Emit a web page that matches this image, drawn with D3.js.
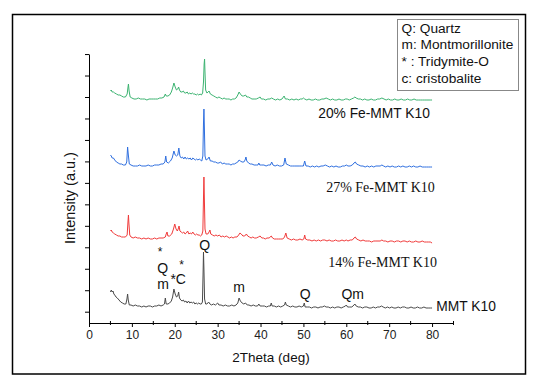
<!DOCTYPE html>
<html>
<head>
<meta charset="utf-8">
<script src="https://cdn.jsdelivr.net/npm/d3@7"></script>
<style>
  body { margin: 0; background: #fff; }
  svg { display: block; font-family: "Liberation Sans", Arial, sans-serif; }
</style>
</head>
<body>
<svg id="chart" width="538" height="384"></svg>
<script>
// XRD patterns, 2theta (deg) vs intensity (a.u.)
var mmtK10 = [[5.0,17],[5.2,19],[5.4,17],[5.6,18],[5.8,15],[6.0,14],[6.3,12],[6.6,11],[7.0,9],[7.4,7],[7.8,6],[8.2,5],[8.6,5],[8.85,10],[9.0,15],[9.15,9],[9.4,4],[9.8,4],[10.3,3],[10.8,4],[11.3,3],[11.8,3],[12.3,2],[12.8,3],[13.3,2],[13.8,3],[14.3,3],[14.8,2],[15.3,3],[15.8,3],[16.3,4],[16.8,3],[17.3,4],[17.6,5],[17.8,11],[18.0,5],[18.4,5],[18.8,6],[19.2,8],[19.5,12],[19.8,20],[20.1,15],[20.4,12],[20.7,13],[20.9,17],[21.1,11],[21.4,9],[21.7,8],[22.0,9],[22.3,7],[22.6,8],[22.9,6],[23.2,8],[23.5,6],[23.8,7],[24.1,6],[24.4,7],[24.7,5],[25.0,6],[25.3,5],[25.6,6],[25.9,5],[26.2,5],[26.45,7],[26.6,35],[26.7,57],[26.8,40],[26.95,10],[27.2,5],[27.5,5],[27.9,7],[28.2,5],[28.6,4],[29.0,5],[29.5,4],[30.0,6],[30.3,4],[30.8,4],[31.3,3],[31.8,4],[32.3,3],[32.8,3],[33.3,4],[33.8,3],[34.3,4],[34.7,6],[35.0,11],[35.3,8],[35.7,6],[36.1,5],[36.5,6],[36.9,4],[37.3,4],[37.8,3],[38.3,4],[38.8,3],[39.3,3],[39.6,5],[39.9,3],[40.4,3],[40.9,3],[41.4,2],[41.9,3],[42.3,3],[42.5,6],[42.7,3],[43.2,3],[43.7,2],[44.2,3],[44.7,2],[45.2,3],[45.6,4],[45.8,7],[46.0,4],[46.5,3],[47.0,2],[47.5,3],[48.0,2],[48.5,2],[49.0,3],[49.5,2],[50.0,3],[50.2,6],[50.4,2],[50.9,2],[51.4,2],[51.9,1],[52.4,2],[52.9,2],[53.4,1],[53.9,2],[54.4,2],[54.9,3],[55.3,2],[55.8,2],[56.3,1],[56.8,2],[57.3,1],[57.8,2],[58.3,2],[58.8,1],[59.3,2],[59.8,3],[60.0,4],[60.3,2],[60.8,2],[61.3,2],[61.8,4],[62.0,5],[62.3,3],[62.8,2],[63.3,2],[63.8,1],[64.3,2],[64.8,2],[65.3,1],[65.8,1],[66.3,2],[66.8,1],[67.3,2],[67.8,2],[68.2,3],[68.6,2],[69.1,1],[69.6,2],[70.1,1],[70.6,2],[71.1,1],[71.6,1],[72.1,2],[72.6,1],[73.1,2],[73.6,2],[74.1,1],[74.6,1],[75.1,2],[75.6,1],[76.1,1],[76.6,2],[77.1,1],[77.6,1],[78.1,2],[78.6,1],[79.1,1],[79.6,1],[80.0,1]];

var fe14 = [[5.0,12],[5.2,13],[5.4,11],[5.7,10],[6.0,9],[6.4,8],[6.8,7],[7.2,7],[7.6,6],[8.0,6],[8.5,6],[8.9,8],[9.1,22],[9.2,28],[9.3,20],[9.5,8],[9.8,6],[10.3,5],[10.8,6],[11.3,5],[11.8,5],[12.3,4],[12.8,5],[13.3,4],[13.8,5],[14.3,4],[14.8,4],[15.3,5],[15.8,4],[16.3,5],[16.8,5],[17.3,5],[17.8,6],[18.0,9],[18.2,11],[18.4,7],[18.8,7],[19.3,9],[19.7,14],[20.0,19],[20.3,14],[20.6,12],[20.8,14],[21.0,17],[21.2,12],[21.5,11],[21.8,10],[22.1,11],[22.4,9],[22.7,10],[23.0,12],[23.3,9],[23.6,10],[23.9,9],[24.2,11],[24.5,9],[24.8,8],[25.1,9],[25.4,8],[25.7,8],[26.0,7],[26.3,8],[26.55,12],[26.7,45],[26.8,66],[26.9,45],[27.05,14],[27.3,9],[27.7,9],[28.0,11],[28.2,13],[28.4,9],[28.8,8],[29.2,7],[29.6,8],[30.0,7],[30.4,8],[30.8,6],[31.2,7],[31.6,6],[32.0,7],[32.4,6],[32.8,5],[33.2,6],[33.6,5],[34.0,6],[34.5,6],[34.9,8],[35.2,10],[35.5,9],[35.9,7],[36.3,7],[36.7,9],[37.0,7],[37.4,6],[37.8,5],[38.2,6],[38.6,5],[39.0,5],[39.5,6],[39.9,7],[40.3,5],[40.7,5],[41.1,4],[41.5,5],[42.0,5],[42.5,7],[42.8,5],[43.2,4],[43.7,4],[44.2,4],[44.7,4],[45.2,4],[45.6,6],[45.9,10],[46.2,5],[46.7,4],[47.2,3],[47.7,4],[48.2,3],[48.7,3],[49.2,4],[49.7,3],[50.1,4],[50.3,8],[50.5,4],[51.0,3],[51.5,3],[52.0,2],[52.5,3],[53.0,2],[53.5,3],[54.0,2],[54.5,3],[55.0,3],[55.5,2],[56.0,3],[56.5,2],[57.0,2],[57.5,3],[58.0,2],[58.5,2],[59.0,3],[59.5,2],[60.0,3],[60.4,2],[60.9,3],[61.4,3],[61.8,5],[62.1,6],[62.4,4],[62.9,3],[63.4,2],[63.9,3],[64.4,2],[64.9,2],[65.4,2],[65.9,1],[66.4,2],[66.9,2],[67.4,2],[67.9,2],[68.3,3],[68.7,2],[69.2,2],[69.7,1],[70.2,2],[70.7,2],[71.2,1],[71.7,2],[72.2,2],[72.7,1],[73.2,2],[73.7,2],[74.2,1],[74.7,2],[75.2,1],[75.7,1],[76.2,2],[76.7,1],[77.2,1],[77.7,2],[78.2,1],[78.7,1],[79.2,1],[79.6,1],[80.0,0]];

var fe27 = [[5.0,13],[5.2,12],[5.4,10],[5.7,10],[6.0,8],[6.4,6],[6.8,5],[7.2,4],[7.6,4],[8.0,3],[8.5,3],[8.8,6],[9.0,21],[9.15,14],[9.4,4],[9.8,3],[10.3,2],[10.8,2],[11.3,2],[11.8,3],[12.3,2],[12.8,2],[13.3,2],[13.8,3],[14.3,2],[14.8,2],[15.3,3],[15.8,3],[16.3,3],[16.8,4],[17.3,4],[17.7,6],[17.9,12],[18.1,6],[18.5,5],[19.0,7],[19.4,10],[19.8,17],[20.1,13],[20.4,12],[20.7,13],[20.95,20],[21.2,12],[21.5,10],[21.8,11],[22.1,9],[22.4,11],[22.7,9],[23.0,10],[23.3,9],[23.6,10],[23.9,8],[24.2,10],[24.5,9],[24.8,8],[25.1,9],[25.4,8],[25.7,9],[26.0,8],[26.3,7],[26.55,12],[26.7,45],[26.8,59],[26.9,42],[27.05,12],[27.3,8],[27.7,9],[28.0,11],[28.3,7],[28.7,7],[29.1,6],[29.5,6],[29.9,5],[30.3,5],[30.7,6],[31.1,4],[31.5,5],[31.9,4],[32.3,4],[32.7,4],[33.1,3],[33.5,4],[33.9,4],[34.3,5],[34.7,6],[35.0,8],[35.3,7],[35.7,6],[36.1,6],[36.4,8],[36.6,11],[36.8,7],[37.2,5],[37.6,4],[38.0,4],[38.5,3],[39.0,3],[39.4,3],[39.6,5],[39.8,3],[40.3,3],[40.8,3],[41.3,2],[41.8,3],[42.3,3],[42.6,6],[42.9,3],[43.4,2],[43.9,3],[44.4,2],[44.9,2],[45.4,3],[45.7,10],[46.0,4],[46.5,3],[47.0,2],[47.5,2],[48.0,2],[48.5,2],[49.0,2],[49.5,2],[50.0,2],[50.3,7],[50.6,2],[51.1,2],[51.6,1],[52.1,2],[52.6,1],[53.1,2],[53.6,1],[54.1,2],[54.6,2],[55.1,3],[55.6,2],[56.1,1],[56.6,2],[57.1,1],[57.6,2],[58.1,1],[58.6,1],[59.1,2],[59.6,2],[60.0,3],[60.4,2],[60.9,2],[61.4,3],[61.8,5],[62.1,6],[62.4,4],[62.9,3],[63.4,2],[63.9,2],[64.4,1],[64.9,2],[65.4,1],[65.9,2],[66.4,1],[66.9,2],[67.4,2],[67.9,2],[68.3,3],[68.7,2],[69.2,1],[69.7,2],[70.2,1],[70.7,2],[71.2,1],[71.7,1],[72.2,2],[72.7,1],[73.2,2],[73.7,1],[74.2,1],[74.7,2],[75.2,1],[75.7,2],[76.2,1],[76.7,1],[77.2,2],[77.7,1],[78.2,1],[78.7,1],[79.2,1],[79.6,1],[80.0,1]];

var fe20 = [[5.0,11],[5.2,12],[5.4,10],[5.7,10],[6.0,9],[6.4,8],[6.8,7],[7.2,7],[7.6,6],[8.0,5],[8.5,5],[8.9,8],[9.1,15],[9.2,18],[9.35,11],[9.6,5],[10.0,4],[10.5,3],[11.0,3],[11.5,4],[12.0,3],[12.5,3],[13.0,3],[13.5,2],[14.0,3],[14.5,3],[15.0,3],[15.5,3],[16.0,3],[16.5,4],[17.0,4],[17.5,5],[17.8,8],[18.0,6],[18.4,6],[18.8,7],[19.2,10],[19.5,14],[19.8,19],[20.1,15],[20.4,12],[20.7,13],[20.9,15],[21.1,12],[21.4,10],[21.7,10],[22.0,11],[22.3,9],[22.6,9],[22.9,10],[23.2,8],[23.5,9],[23.8,8],[24.1,9],[24.4,8],[24.7,8],[25.0,7],[25.3,8],[25.6,7],[25.9,8],[26.2,7],[26.5,9],[26.7,20],[26.85,38],[26.95,43],[27.05,30],[27.2,12],[27.5,9],[27.8,10],[28.0,11],[28.3,8],[28.7,7],[29.1,6],[29.5,5],[29.9,4],[30.3,5],[30.7,4],[31.1,3],[31.5,4],[31.9,3],[32.3,3],[32.7,3],[33.1,2],[33.5,3],[33.9,3],[34.3,4],[34.7,7],[35.0,10],[35.3,8],[35.7,6],[36.1,6],[36.5,7],[36.8,5],[37.2,5],[37.6,4],[38.0,3],[38.5,3],[39.0,3],[39.5,4],[39.9,5],[40.2,3],[40.7,3],[41.2,2],[41.7,3],[42.2,3],[42.6,4],[43.0,3],[43.5,2],[44.0,3],[44.5,2],[45.0,3],[45.5,6],[45.8,3],[46.3,3],[46.8,2],[47.3,3],[47.8,2],[48.3,3],[48.8,2],[49.3,3],[49.7,3],[50.0,4],[50.3,3],[50.8,2],[51.3,3],[51.8,2],[52.3,2],[52.8,3],[53.3,2],[53.8,2],[54.3,3],[54.8,3],[55.3,4],[55.8,3],[56.3,2],[56.8,3],[57.3,2],[57.8,2],[58.3,3],[58.8,2],[59.3,2],[59.8,3],[60.2,3],[60.7,2],[61.2,3],[61.7,4],[62.0,5],[62.3,4],[62.8,3],[63.3,3],[63.8,2],[64.3,3],[64.8,2],[65.3,2],[65.8,3],[66.3,2],[66.8,2],[67.3,3],[67.8,3],[68.3,4],[68.8,3],[69.3,2],[69.8,3],[70.3,2],[70.8,2],[71.3,3],[71.8,2],[72.3,2],[72.8,3],[73.3,2],[73.8,2],[74.3,3],[74.8,2],[75.3,2],[75.8,3],[76.3,2],[76.8,2],[77.3,2],[77.8,2],[78.3,2],[78.8,2],[79.3,2],[79.7,2],[80.0,2]];

// stacking of the patterns (a.u. added to each)
var seriesNames = ["MMT K10", "14% Fe-MMT K10", "27% Fe-MMT K10", "20% Fe-MMT K10"];
var seriesData = [mmtK10, fe14, fe27, fe20];
var stackOffset = [14, 80, 155, 221];
var seriesColors = ["#4a4a4a", "#f03a3a", "#2f6fdf", "#3cb371"];

// where each series label sits: [2theta, a.u.], anchor and font
var labelPos = [[81, 12], [55.8, 56], [55.3, 131], [79.5, 205]];
var labelAnchor = ["start", "start", "start", "end"];
var labelFont = ["sans", "serif", "serif", "sans"];

// phase markers above the MMT K10 pattern (a.u. above its stack offset)
var peakMarks = [
  {t: "*", x: 16.6, y: 53},
  {t: "*", x: 21.6, y: 40},
  {t: "Q", x: 17.2, y: 36},
  {t: "m", x: 17.3, y: 20},
  {t: "*C", x: 20.8, y: 24.7},
  {t: "Q", x: 27.0, y: 59},
  {t: "m", x: 35.0, y: 16.7},
  {t: "Q", x: 50.4, y: 9.7},
  {t: "Qm", x: 61.5, y: 9.7}
];

var legendLines = ["Q: Quartz", "m: Montmorillonite", "* : Tridymite-O", "c: cristobalite"];

var svg = d3.select("#chart");

// outer frame
svg.append("rect")
  .attr("x", 12.5).attr("y", 14.5)
  .attr("width", 513).attr("height", 359.5)
  .attr("fill", "none").attr("stroke", "#000").attr("stroke-width", 1.5);

var x = d3.scaleLinear().domain([0, 85]).range([89, 453.5]);
var y = d3.scaleLinear().domain([0, 269]).range([323, 54]);

// x axis, labelled every 10 with minor ticks in between
var xAxis = svg.append("g").attr("transform", "translate(0,323)")
  .call(d3.axisBottom(x).tickValues(d3.range(0, 81, 10)).tickSize(4).tickPadding(3).tickSizeOuter(0));
xAxis.select(".domain").attr("stroke", "#000");
xAxis.selectAll("text").attr("font-size", 12).attr("font-family", "Liberation Sans, Arial, sans-serif").attr("fill", "#222");
svg.append("g").selectAll("line")
  .data(d3.range(5, 86, 10))
  .enter().append("line")
  .attr("x1", d => x(d)).attr("x2", d => x(d))
  .attr("y1", 321).attr("y2", 325)
  .attr("stroke", "#000");

// y axis without labels
var yTicks = d3.range(0, 13).map(k => 11.3 + 21.47 * k);
var yAxis = svg.append("g").attr("transform", "translate(89,0)")
  .call(d3.axisLeft(y).tickValues(yTicks).tickSize(4).tickFormat("").tickSizeOuter(0));
yAxis.select(".domain").attr("stroke", "#000");

// patterns
var line = d3.line()
  .x(d => x(d[0]))
  .y(d => y(d[1]));

seriesData.forEach(function(s, i) {
  svg.append("path")
    .datum(s.map(d => [d[0], d[1] + stackOffset[i]]))
    .attr("d", line)
    .attr("fill", "none")
    .attr("stroke", seriesColors[i])
    .attr("stroke-width", 1)
    .attr("stroke-linejoin", "round");

  svg.append("text")
    .attr("x", x(labelPos[i][0]))
    .attr("y", y(labelPos[i][1]))
    .attr("text-anchor", labelAnchor[i])
    .attr("font-family", labelFont[i] == "serif" ? "Liberation Serif, Times New Roman, serif" : "Liberation Sans, Arial, sans-serif")
    .attr("font-size", labelFont[i] == "serif" ? 14 : 13.8)
    .attr("fill", "#111")
    .text(seriesNames[i]);
});

// phase markers
svg.append("g").selectAll("text")
  .data(peakMarks)
  .enter().append("text")
  .attr("x", d => x(d.x))
  .attr("y", d => y(d.y + stackOffset[0]))
  .attr("text-anchor", "middle")
  .attr("font-size", d => d.t == "*" ? 12 : 14)
  .attr("fill", "#111")
  .text(d => d.t);

// axis titles
svg.append("text")
  .attr("x", 271).attr("y", 362)
  .attr("text-anchor", "middle")
  .attr("font-size", 13.5)
  .attr("fill", "#111")
  .text("2Theta (deg)");

svg.append("text")
  .attr("transform", "translate(75,198) rotate(-90)")
  .attr("text-anchor", "middle")
  .attr("font-size", 14.5)
  .attr("fill", "#111")
  .text("Intensity (a.u.)");

// legend box
var legend = svg.append("g");
legend.append("rect")
  .attr("x", 397.5).attr("y", 19.5)
  .attr("width", 121).attr("height", 71)
  .attr("fill", "#fff").attr("stroke", "#888");
legend.selectAll("text")
  .data(legendLines)
  .enter().append("text")
  .attr("x", 401.5)
  .attr("y", (d, i) => 32.5 + i * 16.7)
  .attr("font-size", 13.7)
  .attr("fill", "#111")
  .text(d => d);
</script>
</body>
</html>
